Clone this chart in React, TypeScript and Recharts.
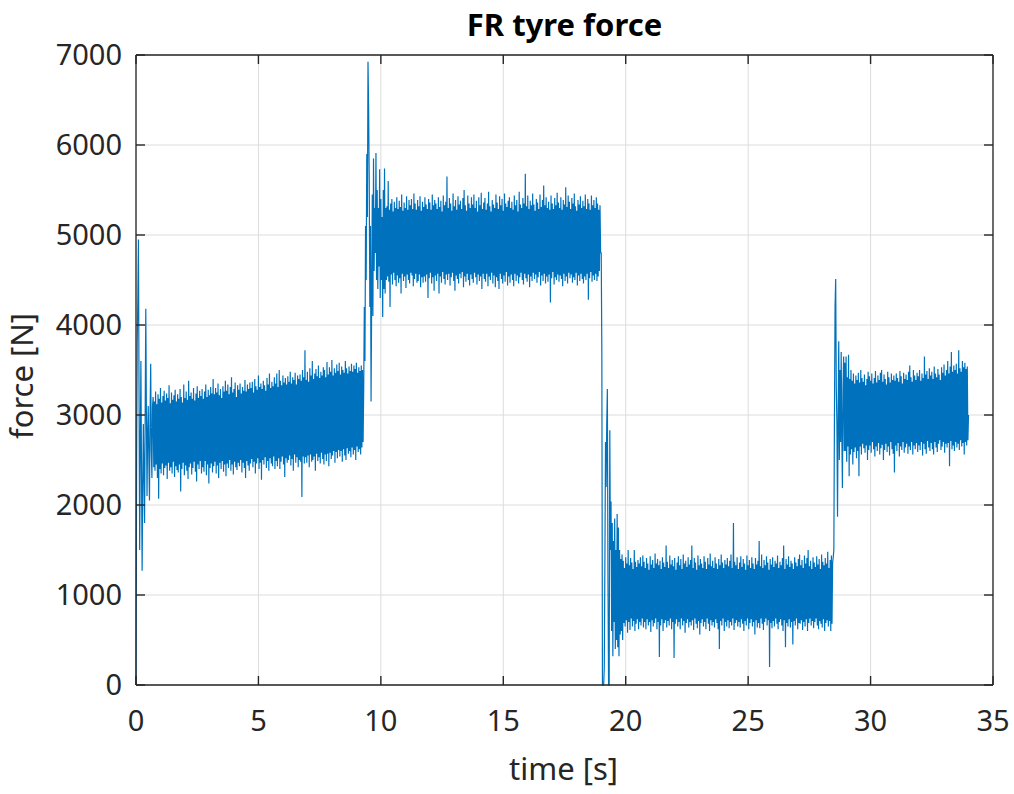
import React from "react";
import {
  LineChart,
  Line,
  XAxis,
  YAxis,
  CartesianGrid,
  ReferenceLine,
} from "recharts";

// signal is logged every 25 ms
const SAMPLE_STEP = 0.025;

// 0.000 – 0.675 s : start-up spikes
const startForce = [
  0, 2500, 3800, 4300, 4950, 3200, 1500, 2600, 3600, 2400, 1270, 2200, 2900, 2300,
  1800, 3000, 4180, 3000, 2100, 2800, 3100, 2500, 2050, 3000, 3570, 2600, 2300, 3100,
];

// 0.700 – 9.275 s : first plateau (~2900 N)
const plateau1Force = [
  3200, 2420, 3150, 2380, 3260, 2450, 3120, 2300, 3230, 2070, 3180, 2400, 3300, 2350, 3140, 2460, 3210, 2330, 3270, 2410,
  3160, 2440, 3240, 2290, 3190, 2470, 3330, 2380, 3130, 2420, 3250, 2350, 3170, 2480, 3220, 2310, 3280, 2430, 3150, 2390,
  3230, 2360, 3180, 2450, 3290, 2150, 3200, 2400, 3140, 2470, 3340, 2330, 3190, 2440, 3260, 2380, 3170, 2290, 3380, 2420,
  3210, 2460, 3250, 2340, 3180, 2410, 3300, 2480, 3160, 2370, 3240, 2260, 3320, 2450, 3190, 2400, 3270, 2490, 3210, 2350,
  3290, 2420, 3180, 2370, 3260, 2490, 3340, 2330, 3200, 2450, 3280, 2240, 3220, 2410, 3310, 2460, 3240, 2360, 3400, 2430,
  3230, 2480, 3300, 2350, 3250, 2440, 3350, 2300, 3220, 2470, 3290, 2400, 3190, 2490, 3320, 2370, 3260, 2450, 3380, 2320,
  3270, 2460, 3340, 2410, 3230, 2500, 3310, 2380, 3420, 2450, 3250, 2340, 3290, 2480, 3360, 2420, 3200, 2390, 3330, 2470,
  3280, 2430, 3350, 2500, 3240, 2360, 3310, 2470, 3270, 2410, 3390, 2300, 3260, 2490, 3340, 2440, 3290, 2380, 3360, 2460,
  3300, 2510, 3370, 2420, 3250, 2480, 3400, 2350, 3320, 2460, 3280, 2520, 3440, 2400, 3310, 2470, 3350, 2280, 3290, 2500,
  3380, 2450, 3330, 2530, 3270, 2410, 3410, 2490, 3340, 2380, 3460, 2520, 3300, 2460, 3370, 2430, 3320, 2540, 3420, 2400,
  3350, 2490, 3460, 2430, 3310, 2520, 3500, 2400, 3380, 2480, 3330, 2540, 3440, 2450, 3360, 2310, 3410, 2520, 3340, 2470,
  3430, 2500, 3370, 2550, 3480, 2440, 3350, 2510, 3420, 2380, 3390, 2560, 3470, 2470, 3340, 2530, 3440, 2420, 3400, 2500,
  3450, 2480, 3380, 2090, 3500, 2540, 3420, 2460, 3720, 2530, 3390, 2470, 3480, 2550, 3370, 2420, 3520, 2560, 3440, 2480,
  3600, 2500, 3400, 2540, 3460, 2380, 3510, 2570, 3430, 2490, 3550, 2530, 3410, 2460, 3480, 2580, 3440, 2510, 3530, 2450,
  3500, 2560, 3420, 2490, 3590, 2570, 3450, 2430, 3530, 2580, 3480, 2510, 3610, 2550, 3440, 2600, 3520, 2470, 3470, 2590,
  3560, 2520, 3490, 2610, 3580, 2540, 3450, 2600, 3540, 2480, 3500, 2620, 3470, 2550, 3600, 2500, 3520, 2630, 3460, 2570,
  3540, 2600, 3490, 2530, 3570, 2640, 3480, 2560, 3550, 2610, 3510, 2500, 3580, 2650, 3470, 2590, 3530, 2620, 3490, 2560,
  3550, 2640, 3500, 2700,
];

// 9.300 – 10.225 s : load step up with overshoot
const stepUpForce = [
  3300, 4200, 3600, 5100, 4500, 5900, 5200, 6925, 6400, 5600, 4200, 5100, 3150, 4300, 5450, 4100, 5850, 4600, 5300,
  4800, 5910, 4500, 5500, 4400, 5300, 4650, 5730, 4300, 5400, 4500, 5200, 4090, 5500, 4400, 5740, 4350, 5300, 4500,
];

// 10.250 – 18.975 s : high plateau (~4900 N)
const plateau2Force = [
  5320, 4540, 5600, 4480, 5280, 4200, 5350, 4560, 5400, 4450, 5260, 4580, 5370, 4500, 5300, 4430, 5420, 4550, 5290, 4470,
  5380, 4520, 5310, 4350, 5450, 4570, 5270, 4490, 5360, 4540, 5300, 4410, 5430, 4560, 5280, 4500, 5390, 4460, 5330, 4580,
  5400, 4550, 5290, 4430, 5460, 4510, 5350, 4570, 5280, 4470, 5390, 4490, 5320, 4560, 5430, 4420, 5270, 4530, 5370, 4470,
  5310, 4540, 5420, 4480, 5340, 4560, 5290, 4300, 5400, 4520, 5360, 4580, 5280, 4460, 5450, 4530, 5330, 4380, 5390, 4550,
  5350, 4490, 5290, 4570, 5420, 4350, 5310, 4540, 5380, 4470, 5260, 4590, 5440, 4510, 5330, 4450, 5370, 4560, 5650, 4500,
  5300, 4570, 5410, 4440, 5350, 4530, 5270, 4580, 5460, 4490, 5320, 4380, 5390, 4550, 5280, 4510, 5430, 4460, 5340, 4570,
  5380, 4520, 5290, 4590, 5410, 4420, 5500, 4540, 5330, 4480, 5270, 4570, 5440, 4500, 5350, 4440, 5300, 4560, 5420, 4510,
  5340, 4470, 5450, 4580, 5300, 4530, 5380, 4450, 5260, 4560, 5420, 4490, 5330, 4540, 5470, 4400, 5290, 4570, 5360, 4510,
  5410, 4480, 5280, 4570, 5350, 4430, 5480, 4540, 5320, 4500, 5260, 4580, 5390, 4460, 5340, 4550, 5300, 4420, 5450, 4530,
  5360, 4490, 5290, 4400, 5430, 4570, 5330, 4510, 5400, 4460, 5270, 4550, 5460, 4480, 5350, 4590, 5310, 4440, 5380, 4540,
  5420, 4470, 5300, 4560, 5370, 4500, 5280, 4430, 5440, 4570, 5330, 4490, 5390, 4550, 5260, 4460, 5480, 4530, 5340, 4580,
  5300, 4500, 5410, 4450, 5350, 4570, 5680, 4520, 5320, 4480, 5440, 4560, 5290, 4420, 5380, 4540, 5330, 4490, 5460, 4580,
  5340, 4510, 5270, 4560, 5400, 4470, 5360, 4530, 5290, 4590, 5450, 4440, 5310, 4550, 5390, 4490, 5550, 4570, 5330, 4460,
  5420, 4540, 5300, 4480, 5370, 4560, 5280, 4250, 5440, 4520, 5350, 4590, 5290, 4450, 5410, 4530, 5330, 4500, 5470, 4560,
  5360, 4480, 5300, 4550, 5420, 4510, 5280, 4430, 5390, 4570, 5340, 4490, 5530, 4540, 5310, 4460, 5440, 4580, 5370, 4520,
  5290, 4560, 5410, 4470, 5350, 4530, 5460, 4500, 5320, 4580, 5270, 4440, 5390, 4550, 5340, 4490, 5430, 4570, 5300, 4510,
  5380, 4460, 5320, 4540, 5450, 4500, 5290, 4570, 5400, 4280, 5350, 4520, 5280, 4590, 5440, 4480, 5330, 4550, 5390, 4500,
  5300, 4570, 5420, 4490, 5350, 4540, 5280, 4600, 5330, 4800,
];

// 19.000 – 19.625 s : unloading, wheel bounces off the ground
const dropForce = [
  4800, 3700, 0, 0, 0, 200, 1400, 2700, 2200, 2900, 3290, 1200, 0,
  0, 2830, 1500, 2040, 600, 1800, 320, 1600, 700, 1850, 400, 1500, 500,
];

// 19.650 – 28.475 s : low plateau (~1000 N)
const plateau3Force = [
  1900, 420, 1750, 320, 1500, 560, 1400, 600, 1450, 500, 1380, 690, 1300, 650, 1420, 720, 1350, 580, 1500, 700,
  1330, 610, 1410, 740, 1360, 650, 1290, 710, 1500, 600, 1370, 680, 1310, 730, 1390, 620, 1350, 700, 1420, 660,
  1320, 740, 1440, 640, 1370, 700, 1300, 620, 1410, 730, 1350, 660, 1280, 700, 1430, 590, 1340, 720, 1390, 650,
  1300, 690, 1460, 740, 1350, 620, 1400, 700, 1330, 310, 1380, 660, 1290, 730, 1420, 600, 1360, 690, 1310, 720,
  1550, 640, 1370, 710, 1300, 660, 1440, 740, 1340, 620, 1390, 700, 1320, 300, 1410, 680, 1280, 730, 1360, 650,
  1430, 700, 1330, 620, 1400, 740, 1290, 660, 1450, 710, 1350, 580, 1380, 690, 1310, 730, 1420, 640, 1340, 700,
  1390, 660, 1550, 720, 1300, 610, 1410, 740, 1360, 680, 1280, 630, 1440, 710, 1330, 560, 1400, 690, 1350, 730,
  1300, 650, 1430, 700, 1370, 620, 1290, 740, 1410, 680, 1340, 600, 1460, 720, 1320, 660, 1380, 700, 1300, 640,
  1420, 730, 1350, 690, 1290, 620, 1400, 400, 1330, 710, 1450, 660, 1360, 740, 1300, 600, 1390, 700, 1340, 650,
  1410, 720, 1320, 630, 1380, 700, 1450, 660, 1300, 740, 1800, 610, 1370, 690, 1330, 720, 1420, 650, 1290, 700,
  1360, 640, 1430, 730, 1310, 680, 1400, 600, 1350, 710, 1280, 660, 1440, 740, 1330, 620, 1390, 690, 1300, 730,
  1420, 650, 1350, 700, 1290, 560, 1410, 720, 1340, 640, 1380, 690, 1600, 630, 1320, 740, 1450, 680, 1300, 610,
  1390, 700, 1330, 740, 1430, 660, 1360, 720, 1280, 200, 1400, 690, 1340, 630, 1420, 710, 1310, 650, 1380, 740,
  1350, 680, 1440, 620, 1300, 700, 1370, 730, 1330, 660, 1410, 600, 1550, 720, 1290, 420, 1400, 690, 1340, 650,
  1430, 730, 1310, 640, 1380, 700, 1350, 450, 1290, 710, 1420, 660, 1360, 740, 1320, 620, 1400, 690, 1450, 680,
  1330, 720, 1390, 610, 1300, 700, 1440, 650, 1350, 730, 1410, 600, 1500, 690, 1320, 740, 1380, 660, 1290, 710,
  1420, 630, 1360, 700, 1310, 740, 1430, 660, 1340, 620, 1400, 710, 1290, 680, 1450, 640, 1370, 730, 1330, 600,
  1410, 690, 1350, 720, 1480, 650, 1300, 710, 1390, 600, 1440, 680, 1360, 1420,
];

// 28.500 – 28.925 s : reload with overshoot
const reloadForce = [1500, 3000, 4200, 4510, 3300, 2900, 1870, 3000, 3820, 2500, 3500, 2700, 3700, 2800, 2190, 3300, 3650, 2600];

// 28.950 – 34.000 s : final plateau (~3000 N)
const plateau4Force = [
  3580, 2600, 3650, 2480, 3420, 2650, 3670, 2320, 3400, 2560, 3500, 2620, 3380, 2450, 3460, 2590, 3350, 2640, 3440, 2520,
  3390, 2600, 3470, 2320, 3360, 2650, 3500, 2560, 3410, 2680, 3370, 2630, 3450, 2580, 3330, 2660, 3400, 2500, 3480, 2610,
  3430, 2660, 3380, 2580, 3460, 2700, 3350, 2620, 3410, 2540, 3490, 2650, 3360, 2600, 3440, 2690, 3390, 2560, 3470, 2630,
  3500, 2670, 3370, 2500, 3450, 2610, 3400, 2680, 3340, 2590, 3480, 2650, 3420, 2550, 3360, 2700, 3460, 2620, 3390, 2570,
  3440, 2360, 3380, 2660, 3460, 2600, 3410, 2690, 3370, 2540, 3490, 2650, 3430, 2610, 3350, 2700, 3470, 2580, 3400, 2640,
  3450, 2680, 3390, 2570, 3480, 2650, 3550, 2610, 3420, 2700, 3370, 2560, 3500, 2660, 3440, 2620, 3390, 2690, 3470, 2590,
  3430, 2660, 3500, 2610, 3380, 2700, 3460, 2550, 3410, 2680, 3650, 2620, 3450, 2570, 3490, 2710, 3400, 2640, 3520, 2600,
  3440, 2690, 3480, 2620, 3400, 2560, 3540, 2700, 3460, 2640, 3420, 2590, 3510, 2680, 3450, 2720, 3390, 2610, 3530, 2650,
  3470, 2700, 3560, 2580, 3440, 2680, 3500, 2640, 3600, 2690, 3460, 2430, 3540, 2710, 3700, 2620, 3480, 2660, 3550, 2600,
  3500, 2700, 3570, 2640, 3460, 2680, 3720, 2610, 3520, 2720, 3480, 2650, 3600, 2690, 3530, 2560, 3580, 2700, 3510, 2660,
  3540, 2720, 3000,
];

const TIME_TICKS = [0, 5, 10, 15, 20, 25, 30, 35];
const FORCE_TICKS = [0, 1000, 2000, 3000, 4000, 5000, 6000, 7000];

// logged segments: start time [s] and samples
const segments = [
  { start: 0, values: startForce },
  { start: 0.7, values: plateau1Force },
  { start: 9.3, values: stepUpForce },
  { start: 10.25, values: plateau2Force },
  { start: 19.0, values: dropForce },
  { start: 19.65, values: plateau3Force },
  { start: 28.5, values: reloadForce },
  { start: 28.95, values: plateau4Force },
];

const data = segments.flatMap((seg) =>
  seg.values.map((f, i) => ({
    time: Math.round((seg.start + i * SAMPLE_STEP) * 1000) / 1000,
    force: f,
  }))
);

// plot box (MATLAB-like axes, ticks pointing inwards on all four sides)
const W = 1014;
const H = 794;
const BOX = { left: 136, right: 993, top: 55, bottom: 685 };
const TICK_LEN = 9;

const FONT = "'Noto Sans', 'Open Sans', sans-serif";
const AXIS = "#262626";
const TICK_FONT = 29;

const BottomTick = (props: any) => {
  const { x, payload } = props;
  return (
    <g>
      <line x1={x} x2={x} y1={BOX.bottom} y2={BOX.bottom - TICK_LEN} stroke={AXIS} strokeWidth={1.4} />
      <line x1={x} x2={x} y1={BOX.top} y2={BOX.top + TICK_LEN} stroke={AXIS} strokeWidth={1.4} />
      <text
        x={x}
        y={BOX.bottom + 25}
        dy="0.71em"
        textAnchor="middle"
        fontFamily={FONT}
        fontSize={TICK_FONT}
        fill={AXIS}
      >
        {payload.value}
      </text>
    </g>
  );
};

const LeftTick = (props: any) => {
  const { y, payload } = props;
  return (
    <g>
      <line x1={BOX.left} x2={BOX.left + TICK_LEN} y1={y} y2={y} stroke={AXIS} strokeWidth={1.4} />
      <line x1={BOX.right} x2={BOX.right - TICK_LEN} y1={y} y2={y} stroke={AXIS} strokeWidth={1.4} />
      <text
        x={BOX.left - 14}
        y={y}
        dy="0.355em"
        textAnchor="end"
        fontFamily={FONT}
        fontSize={TICK_FONT}
        fill={AXIS}
      >
        {payload.value}
      </text>
    </g>
  );
};

export default function App() {
  return (
    <div style={{ position: "absolute", left: 0, top: 0, width: W, height: H, background: "#fff" }}>
      <LineChart
        width={W}
        height={H}
        data={data}
        margin={{ top: BOX.top, right: W - BOX.right, bottom: H - BOX.bottom - 60, left: BOX.left - 100 }}
      >
        <CartesianGrid stroke="#dcdcdc" strokeWidth={1} />
        <XAxis
          dataKey="time"
          type="number"
          domain={[0, 35]}
          ticks={TIME_TICKS}
          interval={0}
          height={60}
          tickLine={false}
          stroke={AXIS}
          strokeWidth={1.3}
          tick={<BottomTick />}
        />
        <YAxis
          type="number"
          domain={[0, 7000]}
          ticks={FORCE_TICKS}
          interval={0}
          width={100}
          tickLine={false}
          stroke={AXIS}
          strokeWidth={1.3}
          tick={<LeftTick />}
        />
        <ReferenceLine y={7000} stroke={AXIS} strokeWidth={1.3} />
        <ReferenceLine x={35} stroke={AXIS} strokeWidth={1.3} />
        <Line
          type="linear"
          dataKey="force"
          stroke="#0072BD"
          strokeWidth={1.2}
          dot={false}
          isAnimationActive={false}
        />
      </LineChart>
      <svg
        width={W}
        height={H}
        style={{ position: "absolute", left: 0, top: 0, pointerEvents: "none" }}
      >
        <text x={564.5} y={36} textAnchor="middle" fontFamily={FONT} fontWeight="bold" fontSize={31} fill="#000">
          FR tyre force
        </text>
        <text x={563.5} y={780} textAnchor="middle" fontFamily={FONT} fontSize={31} fill={AXIS}>
          time [s]
        </text>
        <text
          x={0}
          y={0}
          textAnchor="middle"
          fontFamily={FONT}
          fontSize={31}
          fill={AXIS}
          transform="translate(33 376) rotate(-90)"
        >
          force [N]
        </text>
      </svg>
    </div>
  );
}
